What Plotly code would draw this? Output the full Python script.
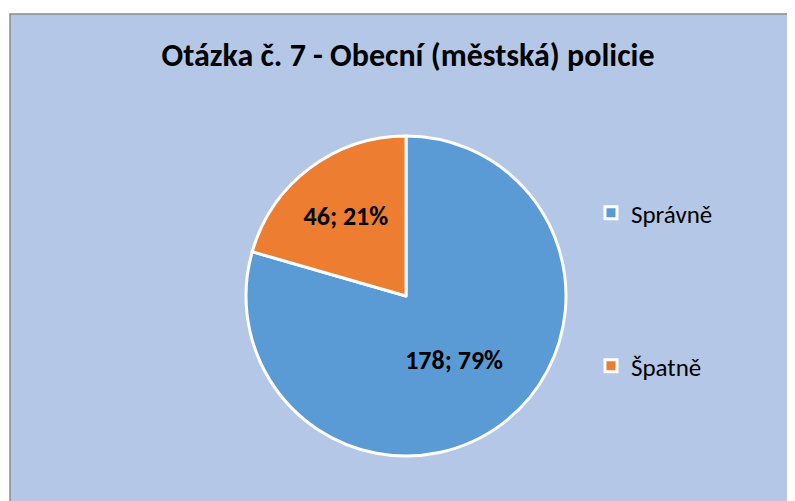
import plotly.graph_objects as go

title = "Otázka č. 7 - Obecní (městská) policie"
labels = ["Správně", "Špatně"]
values = [178, 46]
colors = ["#5B9BD5", "#ED7D31"]

OFF = 8  # page body margin
W, H = 795 - OFF, 501 - OFF
cx, cy, r = 406 - OFF, 296 - OFF, 160
FONT = "Calibri, Carlito, Lato, sans-serif"

fig = go.Figure()
fig.add_trace(go.Pie(
    labels=labels, values=values, sort=False, direction="clockwise", rotation=0,
    marker=dict(colors=colors, line=dict(color="white", width=3)),
    texttemplate="%{value}; %{percent:.0%}", textposition="inside",
    insidetextorientation="horizontal",
    textfont=dict(family=FONT, size=26, color="black", weight="bold"),
    domain=dict(x=[(cx - r) / W, (cx + r) / W], y=[(H - cy - r) / H, (H - cy + r) / H]),
    showlegend=False, hoverinfo="label+value+percent",
))

legend_y = [213 - OFF, 366 - OFF]
for i, (lab, col) in enumerate(zip(labels, colors)):
    fig.add_trace(go.Scatter(
        x=[None], y=[None], mode="markers", name=lab,
        marker=dict(symbol="square", size=12, color=col, line=dict(color="white", width=3)),
        legend="legend" if i == 0 else "legend2",
    ))

legend_common = dict(font=dict(family=FONT, size=25, color="black"),
                      bgcolor="rgba(0,0,0,0)", xanchor="left", yanchor="middle",
                      itemwidth=30, tracegroupgap=0)
lx = (591 - OFF) / W
fig.update_layout(
    width=W, height=H, margin=dict(l=0, r=0, t=0, b=0),
    paper_bgcolor="white", plot_bgcolor="rgba(0,0,0,0)",
    xaxis=dict(visible=False), yaxis=dict(visible=False),
    title=dict(text="<b>" + title + "</b>", x=(408 - OFF) / W, xanchor="center",
               y=1 - (55 - OFF) / H, yanchor="middle",
               font=dict(family=FONT, size=32, color="black")),
    legend=dict(x=lx, y=1 - legend_y[0] / H, **legend_common),
    legend2=dict(x=lx, y=1 - legend_y[1] / H, **legend_common),
    shapes=[dict(type="rect", xref="paper", yref="paper", x0=(10 - OFF) / W, x1=1.05, y0=-0.05,
                 y1=1 - (14 - OFF) / H,
                 fillcolor="#B4C7E7", line=dict(color="#8C8C8C", width=1.5), layer="below")],
)
fig.write_html("out.html")
